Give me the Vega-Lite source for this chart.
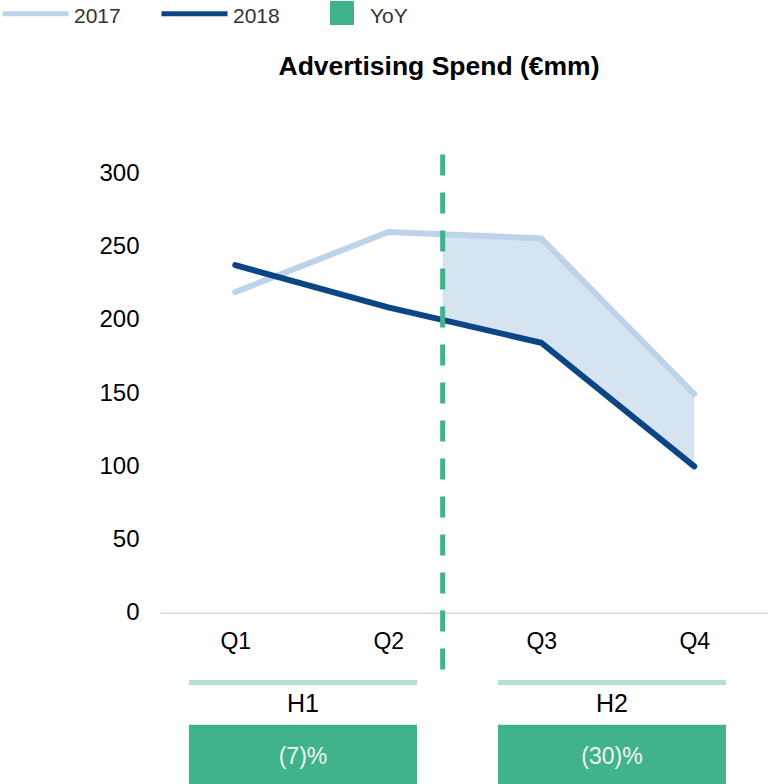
{
  "$schema": "https://vega.github.io/schema/vega-lite/v6.json",
  "width": 608,
  "height": 684,
  "autosize": {"type": "none"},
  "padding": {"left": 160, "top": 100, "right": 0, "bottom": 0},
  "background": "white",
  "config": {
    "view": {"stroke": null},
    "font": "Liberation Sans",
    "axis": {"grid": false, "ticks": false, "domain": false, "title": null}
  },
  "title": {
    "text": "Advertising Spend (€mm)",
    "fontSize": 26.5,
    "fontWeight": "bold",
    "font": "Liberation Sans",
    "color": "#000000",
    "anchor": "middle",
    "frame": "group",
    "dx": -25,
    "baseline": "alphabetic",
    "offset": -123
  },
  "datasets": {
    "spend": [
      {"quarter": 1, "year": "2017", "value": 219},
      {"quarter": 2, "year": "2017", "value": 260},
      {"quarter": 3, "year": "2017", "value": 255.7},
      {"quarter": 4, "year": "2017", "value": 149.4},
      {"quarter": 1, "year": "2018", "value": 237.4},
      {"quarter": 2, "year": "2018", "value": 208.5},
      {"quarter": 3, "year": "2018", "value": 184.4},
      {"quarter": 4, "year": "2018", "value": 100}
    ],
    "gap": [
      {"quarter": 2.3556, "y2017": 259.0, "y2018": 199.9},
      {"quarter": 3, "y2017": 255.7, "y2018": 184.4},
      {"quarter": 4, "y2017": 149.4, "y2018": 100}
    ],
    "halves": [
      {"half": "H1", "start": 0.697, "end": 2.188, "yoy": "(7)%"},
      {"half": "H2", "start": 2.717, "end": 4.207, "yoy": "(30)%"}
    ]
  },
  "layer": [
    {
      "data": {"name": "gap"},
      "mark": {"type": "area", "fill": "#bdd3e9", "fillOpacity": 0.62},
      "encoding": {
        "x": {"field": "quarter", "type": "quantitative", "scale": {"domain": [0.508, 4.482], "nice": false, "zero": false}},
        "y": {"field": "y2017", "type": "quantitative", "scale": {"domain": [-117.0, 350.2], "nice": false, "zero": false}},
        "y2": {"field": "y2018"}
      }
    },
    {
      "data": {"name": "spend"},
      "mark": {"type": "line", "strokeWidth": 6, "strokeCap": "round"},
      "encoding": {
        "x": {
          "field": "quarter", "type": "quantitative",
          "scale": {"domain": [0.508, 4.482], "nice": false, "zero": false},
          "axis": {
            "values": [1, 2, 3, 4],
            "labelExpr": "'Q' + datum.value",
            "offset": -171.3,
            "domain": true,
            "domainColor": "#d9d9d9",
            "domainWidth": 1.5,
            "ticks": false,
            "grid": false,
            "labelFontSize": 23,
            "labelColor": "#000000",
            "labelFont": "Liberation Sans",
            "labelPadding": 18,
            "title": null
          }
        },
        "y": {
          "field": "value", "type": "quantitative",
          "scale": {"domain": [-117.0, 350.2], "nice": false, "zero": false},
          "axis": {
            "values": [0, 50, 100, 150, 200, 250, 300],
            "domain": false,
            "ticks": false,
            "grid": false,
            "labelFontSize": 24,
            "labelColor": "#000000",
            "labelFont": "Liberation Sans",
            "labelPadding": 21,
            "title": null
          }
        },
        "stroke": {
          "field": "year", "type": "nominal",
          "scale": {"domain": ["2017", "2018"], "range": ["#bdd3e9", "#0b4586"]},
          "legend": {
            "orient": "none",
            "legendX": -160,
            "legendY": -122,
            "direction": "horizontal",
            "title": null,
            "symbolType": "stroke",
            "symbolSize": 4356,
            "symbolStrokeWidth": 5,
            "labelFontSize": 21,
            "labelColor": "#333333",
            "labelFont": "Liberation Sans",
            "labelOffset": 3,
            "columnPadding": 30,
            "padding": 0,
            "encode": {"labels": {"update": {"dy": {"value": 3}}}}
          }
        }
      }
    },
    {
      "data": {"values": [{}]},
      "mark": {"type": "rule", "stroke": "#41b38b", "strokeWidth": 5, "strokeDash": [21, 17]},
      "encoding": {
        "x": {"datum": 2.3556, "type": "quantitative"},
        "y": {"datum": 313, "type": "quantitative"},
        "y2": {"datum": -40.3}
      }
    },
    {
      "data": {"name": "halves"},
      "mark": {"type": "rule", "stroke": "#b2e0ce", "strokeWidth": 5},
      "encoding": {
        "x": {"field": "start", "type": "quantitative"},
        "x2": {"field": "end"},
        "y": {"datum": -47.7, "type": "quantitative"}
      }
    },
    {
      "data": {"name": "halves"},
      "transform": [{"calculate": "(datum.start + datum.end) / 2", "as": "mid"}],
      "mark": {"type": "text", "fontSize": 25, "font": "Liberation Sans", "color": "#000000", "baseline": "middle", "align": "center"},
      "encoding": {
        "x": {"field": "mid", "type": "quantitative"},
        "y": {"datum": -62.4, "type": "quantitative"},
        "text": {"field": "half"}
      }
    },
    {
      "data": {"name": "halves"},
      "mark": {"type": "rect"},
      "encoding": {
        "x": {"field": "start", "type": "quantitative"},
        "x2": {"field": "end"},
        "y": {"datum": -76.5, "type": "quantitative"},
        "y2": {"datum": -117},
        "fill": {
          "datum": "YoY", "type": "nominal",
          "scale": {"domain": ["YoY"], "range": ["#41b38b"]},
          "legend": {
            "orient": "none",
            "legendX": 170,
            "legendY": -99,
            "title": null,
            "symbolType": "square",
            "symbolSize": 576,
            "symbolStrokeWidth": 0,
            "labelFontSize": 21,
            "labelColor": "#333333",
            "labelFont": "Liberation Sans",
            "labelOffset": 16,
            "padding": 0,
            "encode": {"labels": {"update": {"dy": {"value": 4}}}}
          }
        }
      }
    },
    {
      "data": {"name": "halves"},
      "transform": [{"calculate": "(datum.start + datum.end) / 2", "as": "mid"}],
      "mark": {"type": "text", "fontSize": 23, "font": "Liberation Sans", "color": "#f4f4f4", "baseline": "middle", "align": "center"},
      "encoding": {
        "x": {"field": "mid", "type": "quantitative"},
        "y": {"datum": -98.6, "type": "quantitative"},
        "text": {"field": "yoy"}
      }
    }
  ]
}
